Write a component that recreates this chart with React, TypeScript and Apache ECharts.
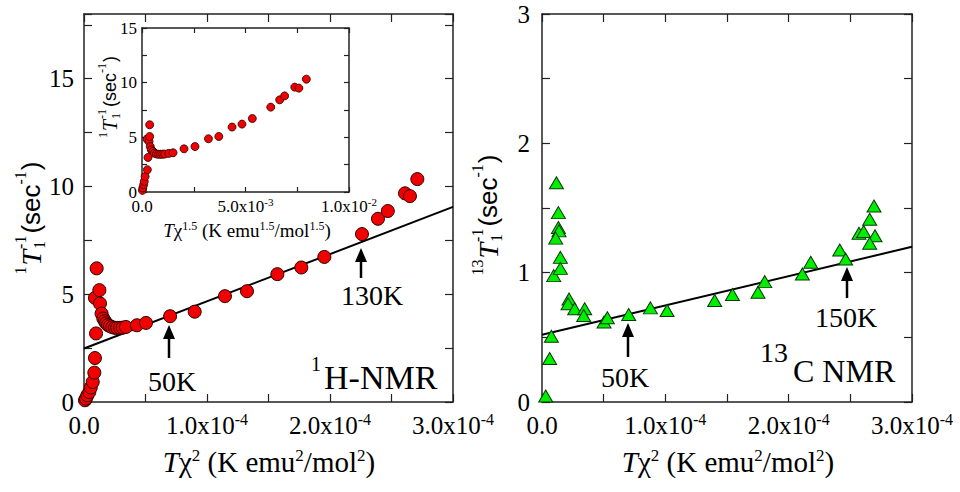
import React, { useEffect, useRef } from 'react';
import * as echarts from 'echarts';

// ---------- data ----------
// 1H-NMR main panel: [T*chi^2 (K emu^2/mol^2), 1/T1 (sec^-1)]
const hNmrPoints: [number, number][] = [
  [0.008e-4, 0.08], [0.016e-4, 0.16], [0.027e-4, 0.31], [0.043e-4, 0.46], [0.055e-4, 0.67],
  [0.071e-4, 0.93], [0.084e-4, 1.36], [0.089e-4, 2.04], [0.098e-4, 3.18], [0.089e-4, 4.83],
  [0.103e-4, 6.2], [0.125e-4, 5.19], [0.13e-4, 4.57], [0.143e-4, 4.1], [0.157e-4, 3.87],
  [0.17e-4, 3.75], [0.18e-4, 3.65], [0.195e-4, 3.57], [0.211e-4, 3.52], [0.23e-4, 3.47],
  [0.252e-4, 3.44], [0.27e-4, 3.44], [0.293e-4, 3.44], [0.315e-4, 3.45], [0.341e-4, 3.48],
  [0.43e-4, 3.56], [0.504e-4, 3.67], [0.70e-4, 3.98], [0.90e-4, 4.19], [1.146e-4, 4.91],
  [1.325e-4, 5.14], [1.572e-4, 5.93], [1.767e-4, 6.24], [1.954e-4, 6.73], [2.26e-4, 7.79],
  [2.39e-4, 8.5], [2.47e-4, 8.86], [2.61e-4, 9.68], [2.65e-4, 9.55], [2.71e-4, 10.34],
];
const hNmrFit: [number, number][] = [[0, 2.48], [3e-4, 9.05]];

// inset: [T*chi^1.5 (K emu^1.5/mol^1.5), 1/T1]
const insetPoints: [number, number][] = [
  [0.00002, 0.15], [0.00004, 0.37], [0.00008, 0.67], [0.00011, 0.97], [0.00015, 1.42],
  [0.00026, 2.04], [0.00029, 3.16], [0.00024, 4.84], [0.00034, 4.62], [0.00037, 5.08],
  [0.00037, 6.15], [0.0004, 4.16], [0.00045, 3.86], [0.00053, 3.71], [0.0006, 3.55],
  [0.0007, 3.48], [0.0008, 3.45], [0.0009, 3.45], [0.001, 3.46], [0.0011, 3.47],
  [0.00129, 3.53], [0.0015, 3.59], [0.00203, 3.95], [0.00256, 4.16], [0.00321, 4.87],
  [0.00371, 5.08], [0.00435, 5.94], [0.00483, 6.21], [0.00533, 6.72], [0.00622, 7.76],
  [0.00665, 8.43], [0.00689, 8.79], [0.00738, 9.59], [0.00758, 9.5], [0.00794, 10.32],
];

// 13C-NMR panel
const cNmrPoints: [number, number][] = [
  [0.03e-4, 0.046], [0.062e-4, 0.336], [0.076e-4, 0.508], [0.095e-4, 0.977], [0.117e-4, 1.695],
  [0.133e-4, 1.464], [0.133e-4, 1.349], [0.138e-4, 1.323], [0.111e-4, 1.267], [0.149e-4, 1.118],
  [0.149e-4, 1.033], [0.219e-4, 0.797], [0.211e-4, 0.759], [0.265e-4, 0.721], [0.346e-4, 0.721],
  [0.338e-4, 0.669], [0.503e-4, 0.618], [0.53e-4, 0.651], [0.703e-4, 0.677], [0.879e-4, 0.728],
  [1.014e-4, 0.708], [1.40e-4, 0.785], [1.544e-4, 0.831], [1.751e-4, 0.849], [1.806e-4, 0.931],
  [2.111e-4, 0.99], [2.179e-4, 1.08], [2.414e-4, 1.175], [2.462e-4, 1.105], [2.57e-4, 1.305],
  [2.608e-4, 1.318], [2.657e-4, 1.413], [2.692e-4, 1.515], [2.7e-4, 1.285], [2.657e-4, 1.228],
];
const cNmrFit: [number, number][] = [[0, 0.52], [3e-4, 1.2]];

// tick labels ("^" marks a superscript exponent)
const mainXTickLabels = ['0.0', '1.0x10^-4', '2.0x10^-4', '3.0x10^-4'];
const insetXTickLabels = ['0.0', '5.0x10^-3', '1.0x10^-2'];

const SERIF = 'Liberation Serif';
const SANS = 'Liberation Sans';

function richTick(label: string) {
  const [m, e] = label.split('^');
  return e ? `{a|${m}}{b|${e}}` : `{a|${m}}`;
}

let measureCtx: CanvasRenderingContext2D | null = null;
function tw(style: string, size: number, family: string, text: string) {
  if (!measureCtx) measureCtx = document.createElement('canvas').getContext('2d');
  if (!measureCtx) return text.length * size * 0.5;
  measureCtx.font = `${style} ${size}px ${family}`;
  return measureCtx.measureText(text).width;
}

type Piece = { text: string; family: string; size: number; italic: boolean; x: number; dy: number };

function yTitle(cx: number, cy: number, prefix: string, big: number, sans: number, small: number) {
  const items: Piece[] = [];
  let x = 0;
  const w = (p: Omit<Piece, 'x' | 'dy'>) => tw(p.italic ? 'italic' : 'normal', p.size, p.family, p.text);
  const sm = (text: string) => ({ text, family: SERIF, size: small, italic: false });
  const pPre = sm(prefix);
  items.push({ ...pPre, x, dy: -0.36 * big });
  x += w(pPre) + 1;
  const pT = { text: 'T', family: SERIF, size: big, italic: true };
  items.push({ ...pT, x, dy: 0 });
  x += w(pT) + 1;
  items.push({ ...sm('1'), x, dy: 0.3 * big });
  items.push({ ...sm('-1'), x, dy: -0.38 * big });
  x += Math.max(w(sm('1')), w(sm('-1'))) + 2;
  const pSec = { text: '(sec', family: SANS, size: sans, italic: false };
  items.push({ ...pSec, x, dy: 0 });
  x += w(pSec);
  items.push({ ...sm('-1'), x, dy: -0.42 * sans });
  x += w(sm('-1')) + 1;
  const pClose = { text: ')', family: SANS, size: sans, italic: false };
  items.push({ ...pClose, x, dy: 0 });
  x += w(pClose);
  const W = x;
  return {
    type: 'group',
    x: cx,
    y: cy,
    rotation: Math.PI / 2,
    children: items.map((it) => ({
      type: 'text',
      x: it.x - W / 2,
      y: it.dy,
      style: {
        text: it.text, fontFamily: it.family, fontSize: it.size, fontStyle: it.italic ? 'italic' : 'normal',
        fill: '#000', align: 'left', verticalAlign: 'middle',
      },
    })),
  };
}

function xTitle(cx: number, cy: number, size: number, sup: number, exp: string) {
  return {
    type: 'text',
    x: cx,
    y: cy,
    style: {
      text: `{t|T}{n|χ}{s|${exp}}{n| (K emu}{s|${exp}}{n|/mol}{s|${exp}}{n|)}`,
      align: 'center',
      verticalAlign: 'middle',
      fontFamily: SERIF,
      fontSize: size,
      rich: {
        t: { fontFamily: SERIF, fontStyle: 'italic', fontSize: size, lineHeight: size + 2, fill: '#000' },
        n: { fontFamily: SERIF, fontSize: size, lineHeight: size + 2, fill: '#000' },
        s: { fontFamily: SERIF, fontSize: sup, lineHeight: sup, verticalAlign: 'top', fill: '#000' },
      },
    },
  };
}

function label(x: number, y: number, text: string, size: number, align = 'center') {
  return {
    type: 'text',
    x,
    y,
    style: { text, fontFamily: SERIF, fontSize: size, fill: '#000', align, verticalAlign: 'middle' },
  };
}

function arrow(x: number, tipY: number, bottomY: number) {
  return {
    type: 'group',
    children: [
      { type: 'line', shape: { x1: x, y1: bottomY, x2: x, y2: tipY + 10 }, style: { stroke: '#000', lineWidth: 2.5 } },
      { type: 'polygon', shape: { points: [[x - 6, tipY + 14], [x + 6, tipY + 14], [x, tipY]] }, style: { fill: '#000' } },
    ],
  };
}

const AXIS_LINE = { show: true, onZero: false, lineStyle: { color: '#222', width: 1.5 } };

function xAxes(grid: number, max: number, interval: number, labels: string[], big: boolean) {
  const fs = big ? 25 : 17;
  const sfs = big ? 16 : 11;
  const tick = { show: true, inside: true, length: big ? 8 : 5, lineStyle: { color: '#222', width: 1.2 } };
  return [
    {
      type: 'value', gridIndex: grid, position: 'bottom', min: 0, max, interval,
      axisLine: AXIS_LINE, axisTick: tick, splitLine: { show: false },
      axisLabel: {
        show: true, margin: big ? 9 : 4, showMinLabel: true, showMaxLabel: true, hideOverlap: false,
        fontFamily: SERIF, fontSize: fs, color: '#000',
        formatter: (v: number) => {
          const k = Math.round(v / interval);
          if (k % 2) return '';
          const l = labels[k / 2];
          return l ? richTick(l) : '';
        },
        rich: {
          a: { fontFamily: SERIF, fontSize: fs, lineHeight: fs + 3, color: '#000' },
          b: { fontFamily: SERIF, fontSize: sfs, lineHeight: sfs, verticalAlign: 'top', color: '#000' },
        },
      },
    },
    {
      type: 'value', gridIndex: grid, position: 'top', min: 0, max, interval,
      axisLine: AXIS_LINE, axisTick: tick, splitLine: { show: false }, axisLabel: { show: false },
    },
  ];
}

function yAxes(grid: number, max: number, interval: number, labelEvery: number, big: boolean, margin: number) {
  const tick = { show: true, inside: true, length: big ? 8 : 5, lineStyle: { color: '#222', width: 1.2 } };
  return [
    {
      type: 'value', gridIndex: grid, position: 'left', min: 0, max, interval,
      axisLine: AXIS_LINE, axisTick: tick, splitLine: { show: false },
      axisLabel: {
        show: true, margin, showMinLabel: true, showMaxLabel: true,
        fontFamily: SERIF, fontSize: big ? 25 : 17, color: '#000',
        formatter: (v: number) => {
          const r = v / labelEvery;
          return Math.abs(r - Math.round(r)) < 1e-9 ? String(Math.round(v)) : '';
        },
      },
    },
    {
      type: 'value', gridIndex: grid, position: 'right', min: 0, max, interval,
      axisLine: AXIS_LINE, axisTick: tick, splitLine: { show: false }, axisLabel: { show: false },
    },
  ];
}

export default function App() {
  const ref = useRef<HTMLDivElement>(null);
  useEffect(() => {
    if (!ref.current) return;
    const chart = echarts.init(ref.current, undefined, { renderer: 'svg' });
    const option: any = {
      animation: false,
      backgroundColor: '#fff',
      textStyle: { fontFamily: SERIF },
      grid: [
        { left: 84, top: 14, width: 369, height: 388 },
        { left: 142, top: 28, width: 207, height: 164 },
        { left: 542, top: 14, width: 370, height: 388 },
      ],
      xAxis: [
        ...xAxes(0, 3e-4, 0.5e-4, mainXTickLabels, true),
        ...xAxes(1, 0.01, 0.0025, insetXTickLabels, false),
        ...xAxes(2, 3e-4, 0.5e-4, mainXTickLabels, true),
      ],
      yAxis: [
        ...yAxes(0, 18, 2.5, 5, true, 10),
        ...yAxes(1, 15, 2.5, 5, false, 5),
        ...yAxes(2, 3, 0.5, 1, true, 12),
      ],
      series: [
        {
          type: 'line', xAxisIndex: 0, yAxisIndex: 0, data: hNmrFit, showSymbol: false, symbol: 'none',
          lineStyle: { color: '#000', width: 2 }, z: 1,
        },
        {
          type: 'scatter', xAxisIndex: 0, yAxisIndex: 0, data: hNmrPoints, symbol: 'circle', symbolSize: 13,
          itemStyle: { color: '#f00000', borderColor: '#2a0000', borderWidth: 1, opacity: 1 },
        },
        {
          type: 'scatter', xAxisIndex: 2, yAxisIndex: 2, data: insetPoints, symbol: 'circle', symbolSize: 8,
          itemStyle: { color: '#f00000', borderColor: '#2a0000', borderWidth: 0.8, opacity: 1 },
        },
        {
          type: 'line', xAxisIndex: 4, yAxisIndex: 4, data: cNmrFit, showSymbol: false, symbol: 'none',
          lineStyle: { color: '#000', width: 2 }, z: 1,
        },
        {
          type: 'scatter', xAxisIndex: 4, yAxisIndex: 4, data: cNmrPoints, symbol: 'triangle', symbolSize: [14, 12],
          itemStyle: { color: '#00ee00', borderColor: '#0a3a0a', borderWidth: 1, opacity: 1 },
        },
      ],
      graphic: [
        yTitle(31, 218, '1', 28, 26, 16),
        yTitle(488, 215, '13', 28, 26, 16),
        yTitle(110, 97, '1', 20, 18, 12),
        xTitle(269, 462, 29, 17, '2'),
        xTitle(728, 462, 29, 17, '2'),
        xTitle(247, 230, 19, 12, '1.5'),
        label(172, 381, '50K', 28),
        label(372, 295, '130K', 28),
        label(625, 377, '50K', 28),
        label(846, 317, '150K', 28),
        label(311, 364, '1', 20, 'left'),
        label(324, 377, 'H-NMR', 34, 'left'),
        label(760, 352, '13', 28, 'left'),
        label(793, 371, 'C NMR', 32, 'left'),
        arrow(169, 325, 358),
        arrow(361, 248, 278),
        arrow(628, 323, 357),
        arrow(847, 267, 298),
      ],
    };
    chart.setOption(option);
    return () => chart.dispose();
  }, []);
  return (
    <div
      ref={ref}
      style={{ position: 'fixed', left: 0, top: 0, width: 960, height: 492, background: '#fff' }}
    />
  );
}
